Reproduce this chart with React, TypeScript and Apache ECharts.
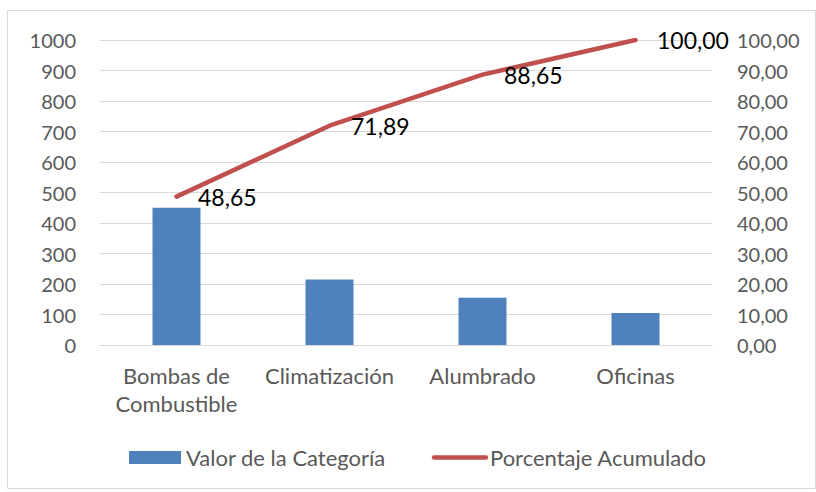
import React, { useEffect, useRef } from "react";
import * as echarts from "echarts";

const categories = ["Bombas de\nCombustible", "Climatización", "Alumbrado", "Oficinas"];
const values = [450, 215, 155, 105];
const cumulative = [48.65, 71.89, 88.65, 100.0];
const seriesNames = ["Valor de la Categoría", "Porcentaje Acumulado"];

const FONT = "Lato, 'Open Sans', sans-serif";
const BAR = "#4F81BD";
const LINE = "#C0504D";
const GRAY = "#595959";
const fmt = (v: number) => v.toFixed(2).replace(".", ",");

export default function App() {
  const ref = useRef<HTMLDivElement>(null);
  useEffect(() => {
    if (!ref.current) return;
    const chart = echarts.init(ref.current, null, { renderer: "svg" });
    chart.setOption({
      animation: false,
      backgroundColor: "#ffffff",
      textStyle: { fontFamily: FONT },
      graphic: [
        {
          type: "rect",
          shape: { x: 7.5, y: 10.5, width: 808, height: 478 },
          style: { fill: "none", stroke: "#D9D9D9", lineWidth: 1 },
          silent: true,
        },
        {
          type: "rect",
          shape: { x: 129, y: 451, width: 52, height: 13 },
          style: { fill: BAR },
          silent: true,
        },
        {
          type: "text",
          x: 186,
          y: 457.5,
          style: {
            text: seriesNames[0],
            fontSize: 22,
            fontFamily: FONT,
            fill: GRAY,
            verticalAlign: "middle",
            align: "left",
          },
          silent: true,
        },
        {
          type: "line",
          shape: { x1: 434, y1: 457.5, x2: 486, y2: 457.5 },
          style: { stroke: LINE, lineWidth: 4.5, lineCap: "round" },
          silent: true,
        },
        {
          type: "text",
          x: 490,
          y: 457.5,
          style: {
            text: seriesNames[1],
            fontSize: 22,
            fontFamily: FONT,
            fill: GRAY,
            verticalAlign: "middle",
            align: "left",
          },
          silent: true,
        },
      ],
      grid: { left: 100, right: 104, top: 40, bottom: 147, containLabel: false },
      xAxis: {
        type: "category",
        data: categories,
        axisLine: { show: true, lineStyle: { color: "#D9D9D9", width: 1 } },
        axisTick: { show: false },
        axisLabel: {
          fontSize: 22,
          color: GRAY,
          lineHeight: 28,
          margin: 16,
          interval: 0,
          fontFamily: FONT,
        },
      },
      yAxis: [
        {
          type: "value",
          min: 0,
          max: 1000,
          interval: 100,
          axisLine: { show: false },
          axisTick: { show: false },
          splitLine: { lineStyle: { color: "#D9D9D9", width: 1 } },
          axisLabel: {
            fontSize: 20,
            color: GRAY,
            margin: 24,
            fontFamily: FONT,
            formatter: (v: number) => String(v),
          },
        },
        {
          type: "value",
          min: 0,
          max: 100,
          interval: 10,
          axisLine: { show: false },
          axisTick: { show: false },
          splitLine: { show: false },
          axisLabel: {
            fontSize: 20,
            color: GRAY,
            margin: 25,
            fontFamily: FONT,
            formatter: (v: number) => fmt(v),
          },
        },
      ],
      series: [
        {
          name: seriesNames[0],
          type: "bar",
          data: values,
          barWidth: 48,
          itemStyle: { color: BAR },
        },
        {
          name: seriesNames[1],
          type: "line",
          yAxisIndex: 1,
          data: cumulative,
          symbol: "circle",
          symbolSize: 1,
          showSymbol: true,
          lineStyle: { color: LINE, width: 4.5, cap: "round" },
          itemStyle: { color: LINE },
          label: {
            show: true,
            position: "right",
            distance: 21,
            fontSize: 23,
            color: "#000000",
            fontFamily: FONT,
            formatter: (p: any) => fmt(p.value),
          },
        },
      ],
    });
    return () => chart.dispose();
  }, []);
  return (
    <div
      ref={ref}
      style={{ position: "fixed", left: 0, top: 0, width: 816, height: 492 }}
    />
  );
}
